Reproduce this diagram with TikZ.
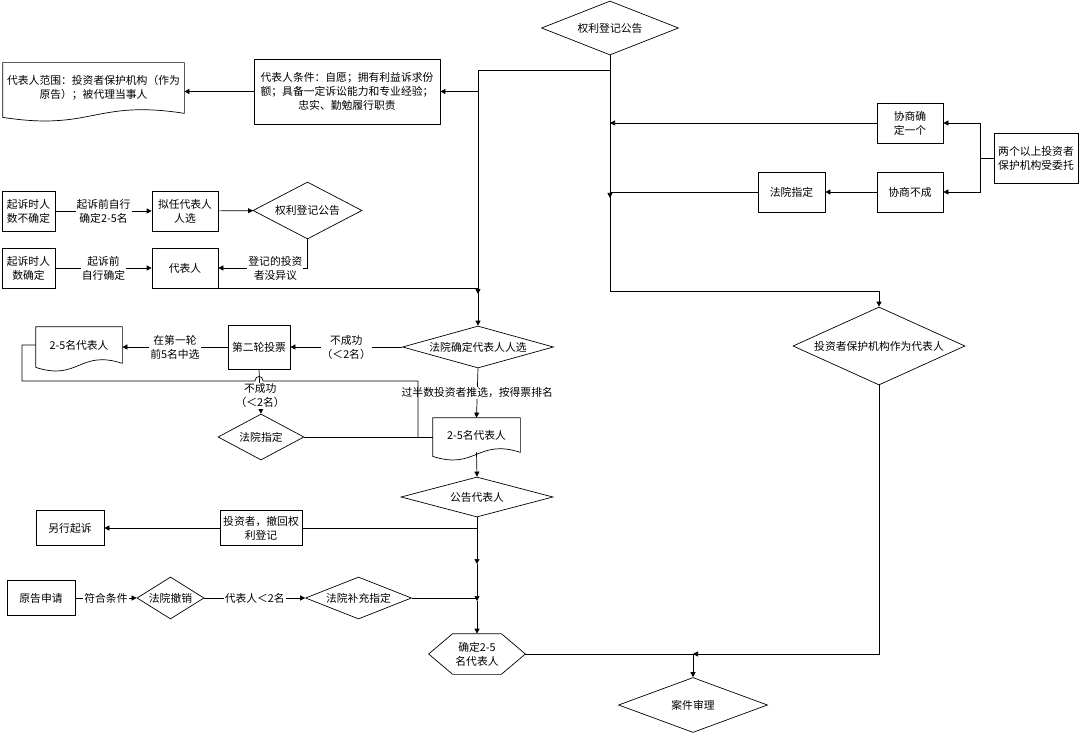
\documentclass[tikz,border=0pt]{standalone}
\usepackage{fontspec}
\setmainfont{Noto Sans CJK SC}
\usepackage{tikz}
\usetikzlibrary{arrows.meta, shapes.geometric}

% wavy document outline round a bare node
\newcommand{\docoutline}[2]{%
  \draw (#1.north west) -- (#1.north east) -- (#1.south east)
    .. controls +(-#2,-14) and +(#2,14) .. ([yshift=-4pt]#1.south west) -- cycle;}

\begin{document}
\begin{tikzpicture}[x=1pt, y=-1pt, line width=0.7pt,
    font=\fontsize{10.8}{14}\selectfont,
    box/.style 2 args={draw, align=center, minimum width=#1, minimum height=#2, inner sep=1pt},
    bare/.style 2 args={align=center, minimum width=#1, minimum height=#2, inner sep=1pt},
    dia/.style n args={3}{diamond, draw, minimum width=#1, minimum height=#2, aspect=#3, inner sep=0pt},
    lbl/.style={fill=white, align=center, inner sep=1pt},
    arr/.style={-{Triangle[length=5pt, width=5pt]}}]
    \useasboundingbox (0,0) rectangle (1080,733);

    % Top: announcement and conditions
    \node[dia={137}{54}{2.54}] (topnotice) at (610,28) {权利登记公告};
    \node[box={186}{65}] (cond) at (347,91.5) {代表人条件：自愿；拥有利益诉求份\\额；具备一定诉讼能力和专业经验；\\忠实、勤勉履行职责};
    \node[bare={181}{50}] (rangedoc) at (93.5,88) {代表人范围：投资者保护机构（作为\\原告）；被代理当事人};
    \docoutline{rangedoc}{90}

    % Right branch: investor protection bodies
    \node[box={66}{40}] (agreeone) at (910,123) {协商确\\定一个};
    \node[box={84}{50}] (multi) at (1036,158) {两个以上投资者\\保护机构受委托};
    \node[box={66}{40}] (agreefail) at (910,192) {协商不成};
    \node[box={67}{40}] (courtpick) at (791.5,192) {法院指定};
    \node[dia={172}{78}{2.2}] (investrep) at (879,346) {投资者保护机构作为代表人};

    % Before the suit
    \node[box={53}{40}] (undet) at (28.5,211) {起诉时人\\数不确定};
    \node[box={66}{40}] (cand) at (185,211) {拟任代表人\\人选};
    \node[dia={109}{57}{1.91}] (notice) at (307.5,210.5) {权利登记公告};
    \node[box={53}{40}] (det) at (28.5,268) {起诉时人\\数确定};
    \node[box={66}{40}] (rep) at (185,268) {代表人};

    % Court selection
    \node[dia={151}{42}{3.6}] (courtsel) at (478,347) {法院确定代表人人选};
    \node[box={62}{44}] (second) at (259,347) {第二轮投票};
    \node[bare={86}{36}] (leftdoc) at (79,345) {2-5名代表人};
    \docoutline{leftdoc}{43}
    \node[dia={86}{46}{1.87}] (courtappoint) at (261,437) {法院指定};
    \node[bare={87}{34}] (rightdoc) at (476.5,435) {2-5名代表人};
    \docoutline{rightdoc}{43}
    \node[dia={152}{40}{3.8}] (announce) at (477,497) {公告代表人};

    % Withdrawal, revocation, supplement
    \node[box={82}{35}] (withdraw) at (261,528) {投资者，撤回权\\利登记};
    \node[box={68}{35}] (sue) at (70,528) {另行起诉};
    \node[box={68}{35}] (apply) at (41,598) {原告申请};
    \node[dia={67}{42}{1.6}] (revoke) at (170.5,598) {法院撤销};
    \node[dia={106}{42}{2.52}] (supp) at (358.5,598) {法院补充指定};
    \node[bare={96}{40}] (final) at (477,654) {确定2-5\\名代表人};
    \draw (final.west) -- ([xshift=24pt]final.north west) -- ([xshift=-24pt]final.north east)
        -- (final.east) -- ([xshift=-24pt]final.south east) -- ([xshift=24pt]final.south west) -- cycle;
    \node[dia={149}{55}{2.71}] (trial) at (693,705) {案件审理};

    % Junctions
    \coordinate (ltop) at (610,70);
    \coordinate (lcol) at (478,70);
    \coordinate (rturn) at (610,291);
    \coordinate (repjoin) at (478,294);
    \coordinate (pickjoin) at (610,198);
    \coordinate (mfork) at (980,158);
    \coordinate (loopa) at (22,381);
    \coordinate (hopa) at (255,381);
    \coordinate (hopb) at (263,381);
    \coordinate (loopjoin) at (418,437);
    \coordinate (j1) at (477,564);
    \coordinate (j2) at (477,601);
    \coordinate (tjoin) at (693,654);

    % Connectors
    \draw[arr] (topnotice.south) -- (rturn) -| (investrep.north);
    \draw (ltop) -- (lcol);
    \draw[arr] (lcol) -- (courtsel.north);
    \draw[arr] (cond.east -| lcol) -- (cond.east);
    \draw[arr] (cond.west) -- (cond.west -| rangedoc.east);
    \draw (multi.west) -- (mfork);
    \draw[arr] (mfork) |- (agreeone.east);
    \draw[arr] (mfork) |- (agreefail.east);
    \draw[arr] (agreeone.west) -- (agreeone.west -| ltop);
    \draw[arr] (agreefail) -- (courtpick);
    \draw[arr] (courtpick.west) -| (pickjoin);

    \draw[arr] (undet) -- node[lbl]{起诉前自行\\确定2-5名} (cand);
    \draw[arr] (cand) -- (notice);
    \draw[arr] (det) -- node[lbl]{起诉前\\自行确定} (rep);
    \draw[arr] (notice.south) |- node[lbl, pos=0.68]{登记的投资\\者没异议} (rep.east);
    \draw[arr] (rep.south east) -| (repjoin);

    \draw[arr] (courtsel.west) -- node[lbl]{不成功\\（＜2名）} (second.east);
    \draw[arr] (second.west) -- node[lbl]{在第一轮\\前5名中选} (second.west -| leftdoc.east);
    \draw[arr] (second.south) -- node[lbl, pos=0.6]{不成功\\（＜2名）} (courtappoint.north);
    \draw[arr] (courtsel.south) -- node[lbl]{过半数投资者推选，按得票排名} (rightdoc.north);
    \draw (leftdoc.west) -| (loopa) -- (hopa) .. controls +(0,-6) and +(0,-6) .. (hopb) -| (loopjoin);
    \draw (courtappoint.east) -- (courtappoint.east -| rightdoc.west);
    \draw[arr] (rightdoc.south) -- (announce.north);

    \draw[arr] (announce.south) -- (j1);
    \draw[arr] (j1) -- (j2);
    \draw[arr] (j2) -- (final.north);
    \draw (withdraw.east -| announce.south) -- (withdraw.east);
    \draw[arr] (withdraw) -- (sue);
    \draw[arr] (apply) -- node[lbl]{符合条件} (revoke);
    \draw[arr] (revoke) -- node[lbl]{代表人＜2名} (supp);
    \draw (supp.east) -- (supp.east -| j2);

    \draw (final.east) -- (tjoin);
    \draw[arr] (investrep.south) |- (tjoin);
    \draw[arr] (tjoin) -- (trial.north);
\end{tikzpicture}
\end{document}
